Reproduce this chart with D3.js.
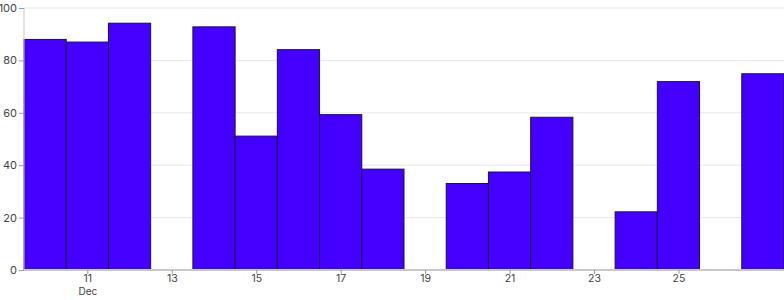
<!DOCTYPE html>
<html><head><meta charset="utf-8">
<script src="https://cdn.jsdelivr.net/npm/d3@7"></script>
<style>body{margin:0;background:#fff}svg{display:block;font-family:Inter,"Noto Sans",sans-serif}</style>
</head><body><svg id="c" width="784" height="300"></svg>
<script>
const days = [10,11,12,14,15,16,17,18,20,21,22,24,25,27];
const values = [88,87,94.2,92.8,51.1,84.1,59.3,38.5,33,37.4,58.3,22.2,71.9,74.9];
const yTicks = [0,20,40,60,80,100];
const xTickDays = [11,13,15,17,19,21,23,25];

const svg = d3.select("#c");
const m = {l:24, r:0, t:8, b:30};
const W = 784, H = 300;
const x = d3.scaleUtc().domain([Date.UTC(2023,11,9,12), Date.UTC(2023,11,27,12)]).range([m.l, W-m.r]);
const y = d3.scaleLinear().domain([0,100]).range([H-m.b, m.t]);

// grid
svg.append("g").selectAll("line").data(yTicks.slice(1)).join("line")
  .attr("x1", m.l).attr("x2", W).attr("y1", d=>y(d)).attr("y2", d=>y(d))
  .attr("stroke", "#e8e8e8").attr("stroke-width", 1);

// bars
svg.append("g").selectAll("rect").data(days.map((d,i)=>({d, v:values[i]}))).join("rect")
  .attr("x", d=>x(Date.UTC(2023,11,d.d,-12)))
  .attr("width", d=>x(Date.UTC(2023,11,d.d,12)) - x(Date.UTC(2023,11,d.d,-12)))
  .attr("y", d=>y(d.v)).attr("height", d=>y(0)-y(d.v))
  .attr("fill", "#4400ff").attr("stroke", "#1c1240").attr("stroke-width", 1);

// y axis
const ya = svg.append("g").attr("transform", `translate(${m.l},0)`)
  .call(d3.axisLeft(y).tickValues(yTicks).tickSize(5).tickPadding(2));
ya.select(".domain").attr("stroke", "#c8c8cc").attr("d", `M0,${y(0)}V${y(100)}`);
ya.selectAll(".tick line").attr("stroke", "#999");
ya.selectAll("text").attr("fill", "#444").style("font-size", "11px").style("font-family", "Inter,'Noto Sans',sans-serif");

// x axis
const xa = svg.append("g").attr("transform", `translate(0,${y(0)})`)
  .call(d3.axisBottom(x).tickValues(xTickDays.map(d=>new Date(Date.UTC(2023,11,d)))).tickSize(4).tickPadding(1)
    .tickFormat(d=>String(d.getUTCDate())));
xa.select(".domain").attr("stroke", "#c8c8cc").attr("stroke-width", 2).attr("d", `M${m.l},0H${W}`);
xa.selectAll(".tick line").attr("stroke", "#999");
xa.selectAll("text").attr("fill", "#444").style("font-size", "10.5px").style("font-family", "Inter,'Noto Sans',sans-serif");
xa.selectAll(".tick").filter((d,i)=>i===0).append("text")
  .attr("y", 17.4).attr("dy", "0.71em").attr("fill", "#444").attr("text-anchor","middle")
  .style("font-size", "10px").style("font-family", "Inter,'Noto Sans',sans-serif").text("Dec");
</script></body></html>
